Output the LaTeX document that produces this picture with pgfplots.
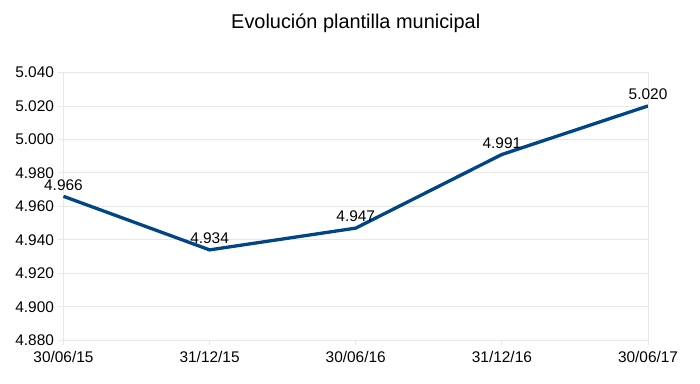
\documentclass[border=0pt]{standalone}
\usepackage{pgfplots}
\pgfplotsset{compat=1.18}
\usepackage{fontspec}
\setmainfont{Liberation Sans}
\definecolor{lineblue}{HTML}{004586}
\definecolor{gridgray}{HTML}{E8E8E8}
\begin{document}
\begin{tikzpicture}[x=1bp,y=1bp]
\begin{axis}[
  scale only axis,
  width=585bp, height=268bp,
  xmin=0, xmax=4, ymin=4880, ymax=5040,
  xtick={0,1,2,3,4},
  xticklabels={30/06/15,31/12/15,30/06/16,31/12/16,30/06/17},
  ytick={4880,4900,...,5040},
  ymajorgrids,
  grid style={gridgray, line width=0.8bp},
  axis line style={gridgray, line width=0.8bp},
  axis x line*=bottom,
  axis y line*=left,
  tick style={gridgray, line width=0.8bp},
  tick align=outside,
  major tick length=5bp,
  tick label style={font=\fontsize{15.5}{17}\selectfont, text=black},
  /pgf/number format/assume math mode=true,
  /pgf/number format/.cd, fixed, precision=0, 1000 sep={.}, min exponent for 1000 sep=0,
  /pgfplots/.cd,
  yticklabel style={xshift=-1bp},
  xticklabel style={yshift=-3bp},
  clip=false,
  title={Evolución plantilla municipal},
  title style={font=\fontsize{20}{22}\selectfont, at={(0.5,1)}, anchor=south, yshift=30bp},
  nodes near coords,
  nodes near coords style={font=\fontsize{15.5}{17}\selectfont, text=black, anchor=south, yshift=1bp,
    /pgf/number format/assume math mode=true, /pgf/number format/1000 sep={.}, /pgf/number format/min exponent for 1000 sep=0},
]
\addplot[lineblue, line width=3.3bp, mark=none] coordinates {
  (0,4966) (1,4934) (2,4947) (3,4991) (4,5020)
};
\draw[gridgray, line width=0.8bp] (axis cs:4,4880) -- (axis cs:4,5040);
\draw[gridgray, line width=0.8bp] (axis cs:0,5040) -- (axis cs:4,5040);
\end{axis}
\pgfresetboundingbox
\path ([shift={(-63.5bp,-43.3bp)}]current axis.south west) rectangle ([shift={(52bp,72.5bp)}]current axis.north east);
\end{tikzpicture}
\end{document}
